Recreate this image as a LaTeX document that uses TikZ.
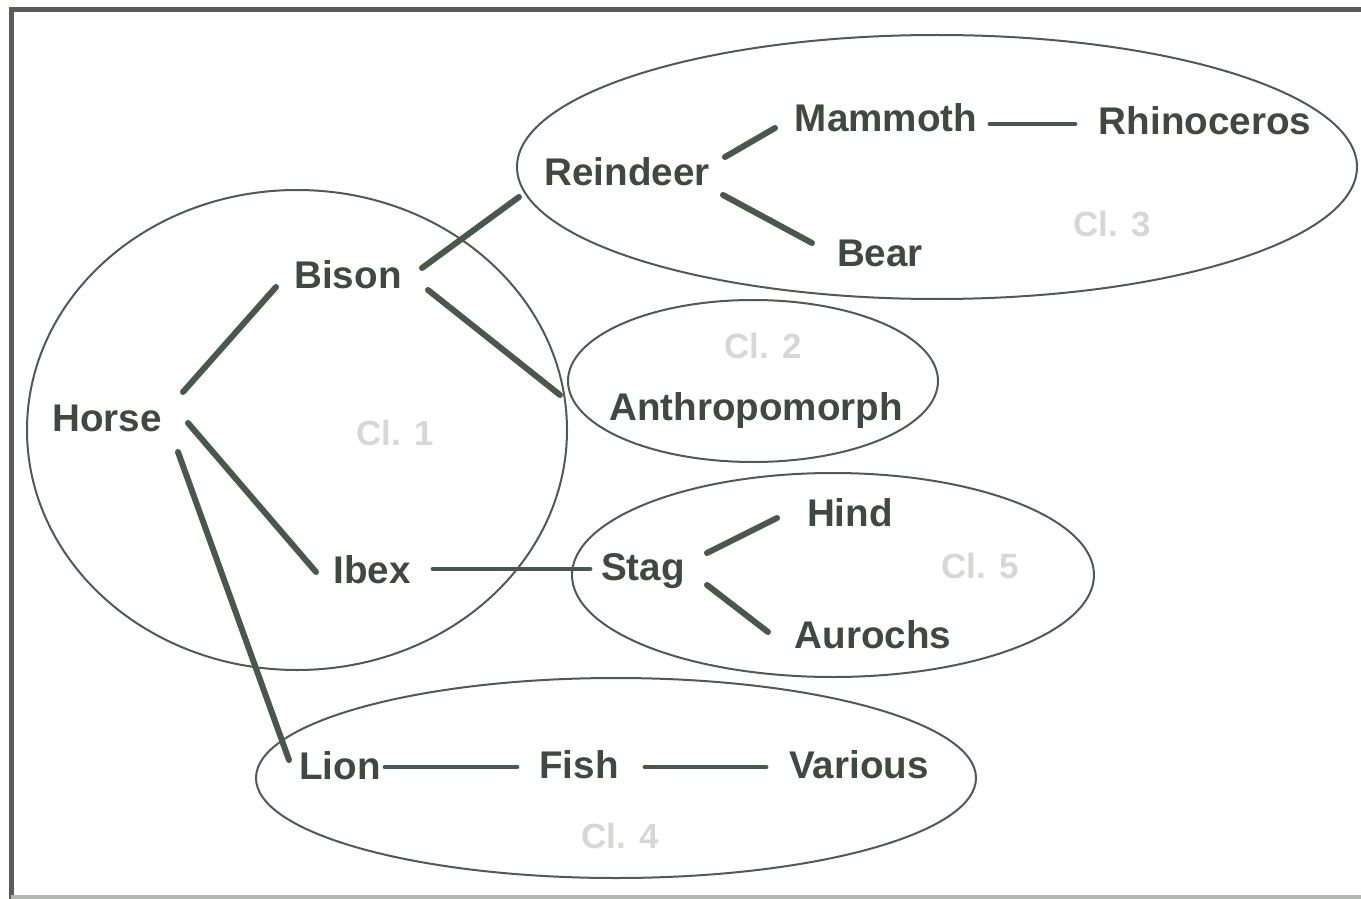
\documentclass[tikz,border=0pt]{standalone}
\usepackage{fontspec}
\setmainfont{Liberation Sans}
\definecolor{ink}{RGB}{62,74,64}
\definecolor{edge}{RGB}{72,88,74}
\definecolor{ring}{RGB}{80,90,82}
\definecolor{cltext}{RGB}{214,216,214}
\definecolor{frame}{RGB}{85,95,88}
\begin{document}
\begin{tikzpicture}[x=0.5pt,y=-0.5pt,
  animal/.style={font=\bfseries\fontsize{19.3}{22}\selectfont, text=ink, inner sep=0pt, text height=13.8pt, text depth=0pt},
  cluster/.style={font=\bfseries\fontsize{17.5}{20}\selectfont, text=cltext, inner sep=0pt, text height=12.5pt, text depth=0pt},
  link/.style={draw=edge, line width=3pt, line cap=round},
  hlink/.style={draw=edge, line width=2.4pt, line cap=round},
  group/.style={draw=ring, line width=1pt}]
\useasboundingbox (0,0) rectangle (1361,899);
% frame
\draw[frame, line width=2.5pt] (11,899) -- (11,10) -- (1361,10);
\draw[frame!45, line width=2pt] (11,897) -- (1361,897);
% groups
\draw[group] (297,430) ellipse [x radius=270, y radius=240];
\draw[group] (937,167) ellipse [x radius=420, y radius=132];
\draw[group] (753,381) ellipse [x radius=185, y radius=81];
\draw[group] (833,575) ellipse [x radius=261, y radius=102];
\draw[group] (616,778) ellipse [x radius=360, y radius=100];
% cluster labels
\node[cluster] (c1) at (395,433) {Cl. 1};
\node[cluster] (c2) at (763,346) {Cl. 2};
\node[cluster] (c3) at (1112,224) {Cl. 3};
\node[cluster] (c4) at (620,836) {Cl. 4};
\node[cluster] (c5) at (980,566) {Cl. 5};
% animals
\node[animal] (horse) at (107,418) {Horse};
\node[animal] (bison) at (348,275) {Bison};
\node[animal] (ibex) at (372,570) {Ibex};
\node[animal] (reindeer) at (627,172) {Reindeer};
\node[animal] (mammoth) at (886,118) {Mammoth};
\node[animal] (rhino) at (1205,121) {Rhinoceros};
\node[animal] (bear) at (880,253) {Bear};
\node[animal] (anthro) at (756,407) {Anthropomorph};
\node[animal] (stag) at (643,567) {Stag};
\node[animal] (hind) at (850,513) {Hind};
\node[animal] (aurochs) at (873,635) {Aurochs};
\node[animal] (lion) at (340,766) {Lion};
\node[animal] (fish) at (579,765) {Fish};
\node[animal] (various) at (859,765) {Various};
% links
\draw[link] ([shift={(76,-26)}]horse.center) -- ([shift={(-72,12)}]bison.center);
\draw[link] ([shift={(81,5)}]horse.center) -- ([shift={(-56,2)}]ibex.center);
\draw[link] ([shift={(71,34)}]horse.center) -- ([shift={(-51,-6)}]lion.center);
\draw[link] ([shift={(74,-7)}]bison.center) -- ([shift={(-108,25)}]reindeer.center);
\draw[link] ([shift={(80,15)}]bison.center) -- ([shift={(-196,-12)}]anthro.center);
\draw[hlink] ([shift={(61,-1)}]ibex.center) -- ([shift={(-53,2)}]stag.center);
\draw[link] ([shift={(98,-15)}]reindeer.center) -- ([shift={(-111,10)}]mammoth.center);
\draw[link] ([shift={(96,23)}]reindeer.center) -- ([shift={(-68,-10)}]bear.center);
\draw[hlink] ([shift={(104,6)}]mammoth.center) -- ([shift={(-130,3)}]rhino.center);
\draw[link] ([shift={(64,-14)}]stag.center) -- ([shift={(-73,5)}]hind.center);
\draw[link] ([shift={(64,18)}]stag.center) -- ([shift={(-105,-3)}]aurochs.center);
\draw[hlink] ([shift={(45,1)}]lion.center) -- ([shift={(-62,2)}]fish.center);
\draw[hlink] ([shift={(66,2)}]fish.center) -- ([shift={(-93,2)}]various.center);
\end{tikzpicture}
\end{document}
